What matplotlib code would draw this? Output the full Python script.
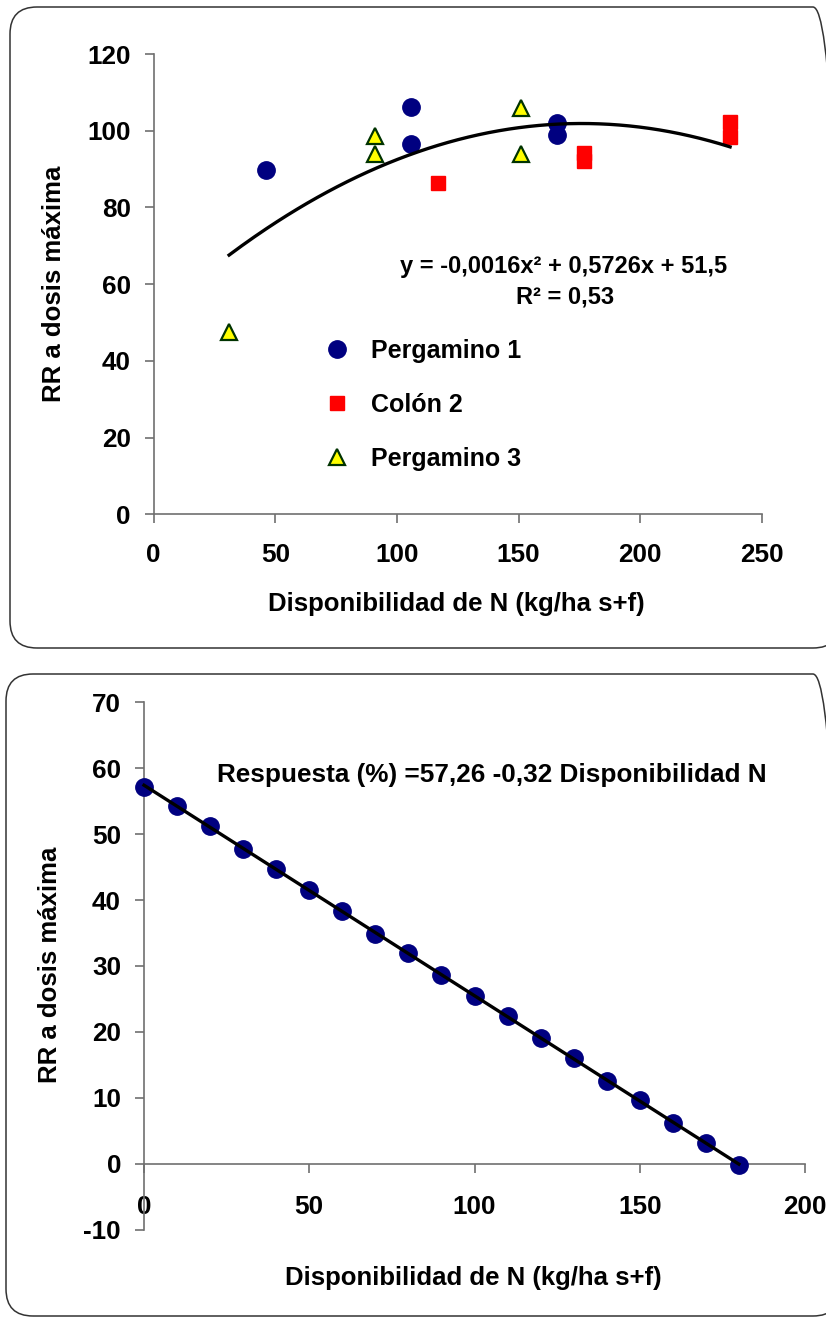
import numpy as np
import matplotlib
matplotlib.use("Agg")
import matplotlib.pyplot as plt
from matplotlib.patches import FancyBboxPatch

plt.rcParams['font.family'] = ['Liberation Sans', 'DejaVu Sans']
plt.rcParams['font.weight'] = 'bold'
plt.rcParams['axes.unicode_minus'] = False

# ---------------- data: top chart ----------------
p1_x = [46, 106, 106, 166, 166]
p1_y = [89.7, 106.3, 96.6, 102.0, 99.0]
c2_x = [117, 177, 177, 237, 237]
c2_y = [86.3, 94.2, 92.0, 102.4, 98.3]
p3_x = [31, 91, 91, 151, 151]
p3_y = [47.6, 98.5, 93.9, 105.9, 93.9]
series_names = ["Pergamino 1", "Colón 2", "Pergamino 3"]
top_xticks = [0, 50, 100, 150, 200, 250]
top_yticks = [0, 20, 40, 60, 80, 100, 120]
eq_top = "y = -0,0016x² + 0,5726x + 51,5"
r2_top = "R² = 0,53"

# ---------------- data: bottom chart ----------------
bot_x = [0, 10, 20, 30, 40, 50, 60, 70, 80, 90, 100, 110, 120, 130, 140, 150, 160, 170, 180]
bot_y = [57.2, 54.2, 51.2, 47.8, 44.7, 41.5, 38.4, 34.9, 31.9, 28.6, 25.5, 22.4, 19.0,
         16.0, 12.6, 9.6, 6.2, 3.2, -0.2]
bot_xticks = [0, 50, 100, 150, 200]
bot_yticks = [-10, 0, 10, 20, 30, 40, 50, 60, 70]
eq_bot = "Respuesta (%) =57,26 -0,32 Disponibilidad N"

xlabel = "Disponibilidad de N (kg/ha s+f)"
ylabel = "RR a dosis máxima"

W, H = 826, 1318
fig = plt.figure(figsize=(W / 100, H / 100), dpi=100)

def fx(px):
    return px / W

def fy(py):
    return 1 - py / H

# rounded panel borders (in inches, isotropic)
for (x0, y0, x1, y1) in [(10, 7, 840, 648), (6, 674, 840, 1316)]:
    box = FancyBboxPatch((x0 / 100, (H - y1) / 100), (x1 - x0) / 100, (y1 - y0) / 100,
                         boxstyle="round,pad=0,rounding_size=0.27",
                         transform=fig.dpi_scale_trans, facecolor='none',
                         edgecolor='#333333', linewidth=1.1, zorder=0)
    fig.patches.append(box)

spine_col = '#707070'
tick_fs = 18.8
lab_fs = 18.5

def style_axes(ax):
    for s in ['top', 'right']:
        ax.spines[s].set_visible(False)
    for s in ['left', 'bottom']:
        ax.spines[s].set_color(spine_col)
        ax.spines[s].set_linewidth(1.2)
    ax.tick_params(axis='both', direction='out', length=6.5, width=1.2, color=spine_col,
                   labelsize=tick_fs)
    ax.tick_params(axis='y', pad=10)
    ax.tick_params(axis='x', pad=14)
    for lab in ax.get_xticklabels() + ax.get_yticklabels():
        lab.set_fontweight('bold')

# ---------------- top chart ----------------
ax1 = fig.add_axes([fx(153.7), fy(514.3), fx(761.7) - fx(153.7), fy(54) - fy(514.3)])
ax1.set_xlim(0, 250)
ax1.set_ylim(0, 120)
ax1.set_xticks(top_xticks)
ax1.set_yticks(top_yticks)
style_axes(ax1)

ax1.plot(p1_x, p1_y, linestyle='none', marker='o', markersize=12.5, color='#000080',
         label=series_names[0], zorder=3, clip_on=False)
ax1.plot(c2_x, c2_y, linestyle='none', marker='s', markersize=9.5, color='#ff0000',
         label=series_names[1], zorder=3, clip_on=False)
ax1.plot(p3_x, p3_y, linestyle='none', marker='^', markersize=11, markerfacecolor='#ffff00',
         markeredgecolor='#003300', markeredgewidth=1.6, label=series_names[2], zorder=3,
         clip_on=False)

all_x = np.array(p1_x + c2_x + p3_x, dtype=float)
all_y = np.array(p1_y + c2_y + p3_y, dtype=float)
coef = np.polyfit(all_x, all_y, 2)
xs = np.linspace(all_x.min(), all_x.max(), 200)
ax1.plot(xs, np.polyval(coef, xs), color='black', linewidth=2.4, zorder=4)

fig.text(fx(564), fy(267), eq_top, ha='center', va='center', fontsize=17, fontweight='bold')
fig.text(fx(565), fy(297), r2_top, ha='center', va='center', fontsize=17, fontweight='bold')

leg = ax1.legend(loc='upper left', bbox_to_anchor=(fx(322), fy(339)),
                 bbox_transform=fig.transFigure, frameon=False, fontsize=18,
                 handlelength=1.2, handletextpad=0.75, labelspacing=1.2, borderpad=0,
                 borderaxespad=0)
for t in leg.get_texts():
    t.set_fontweight('bold')

fig.text(fx(456.5), fy(604), xlabel, ha='center', va='center', fontsize=lab_fs, fontweight='bold')
fig.text(fx(54), fy(284), ylabel, ha='center', va='center', rotation=90, fontsize=lab_fs,
         fontweight='bold')

# ---------------- bottom chart ----------------
ax2 = fig.add_axes([fx(144), fy(1229.5), fx(805) - fx(144), fy(702.3) - fy(1229.5)])
ax2.set_xlim(0, 200)
ax2.set_ylim(-10, 70)
ax2.set_xticks(bot_xticks)
ax2.set_yticks(bot_yticks)
style_axes(ax2)
ax2.spines['bottom'].set_position(('data', 0))
ax2.tick_params(axis='x', pad=16)

ax2.plot(bot_x, bot_y, linestyle='none', marker='o', markersize=12.5, color='#000080',
         zorder=3, clip_on=False)
bcoef = np.polyfit(bot_x, bot_y, 1)
bx = np.array([min(bot_x), max(bot_x)], dtype=float)
ax2.plot(bx, np.polyval(bcoef, bx), color='black', linewidth=2.4, zorder=4, clip_on=False)

fig.text(fx(491.7), fy(775), eq_bot, ha='center', va='center', fontsize=18.8, fontweight='bold')
fig.text(fx(473.7), fy(1278), xlabel, ha='center', va='center', fontsize=lab_fs,
         fontweight='bold')
fig.text(fx(50), fy(964.5), ylabel, ha='center', va='center', rotation=90, fontsize=lab_fs,
         fontweight='bold')

fig.savefig("out.png", dpi=100)
